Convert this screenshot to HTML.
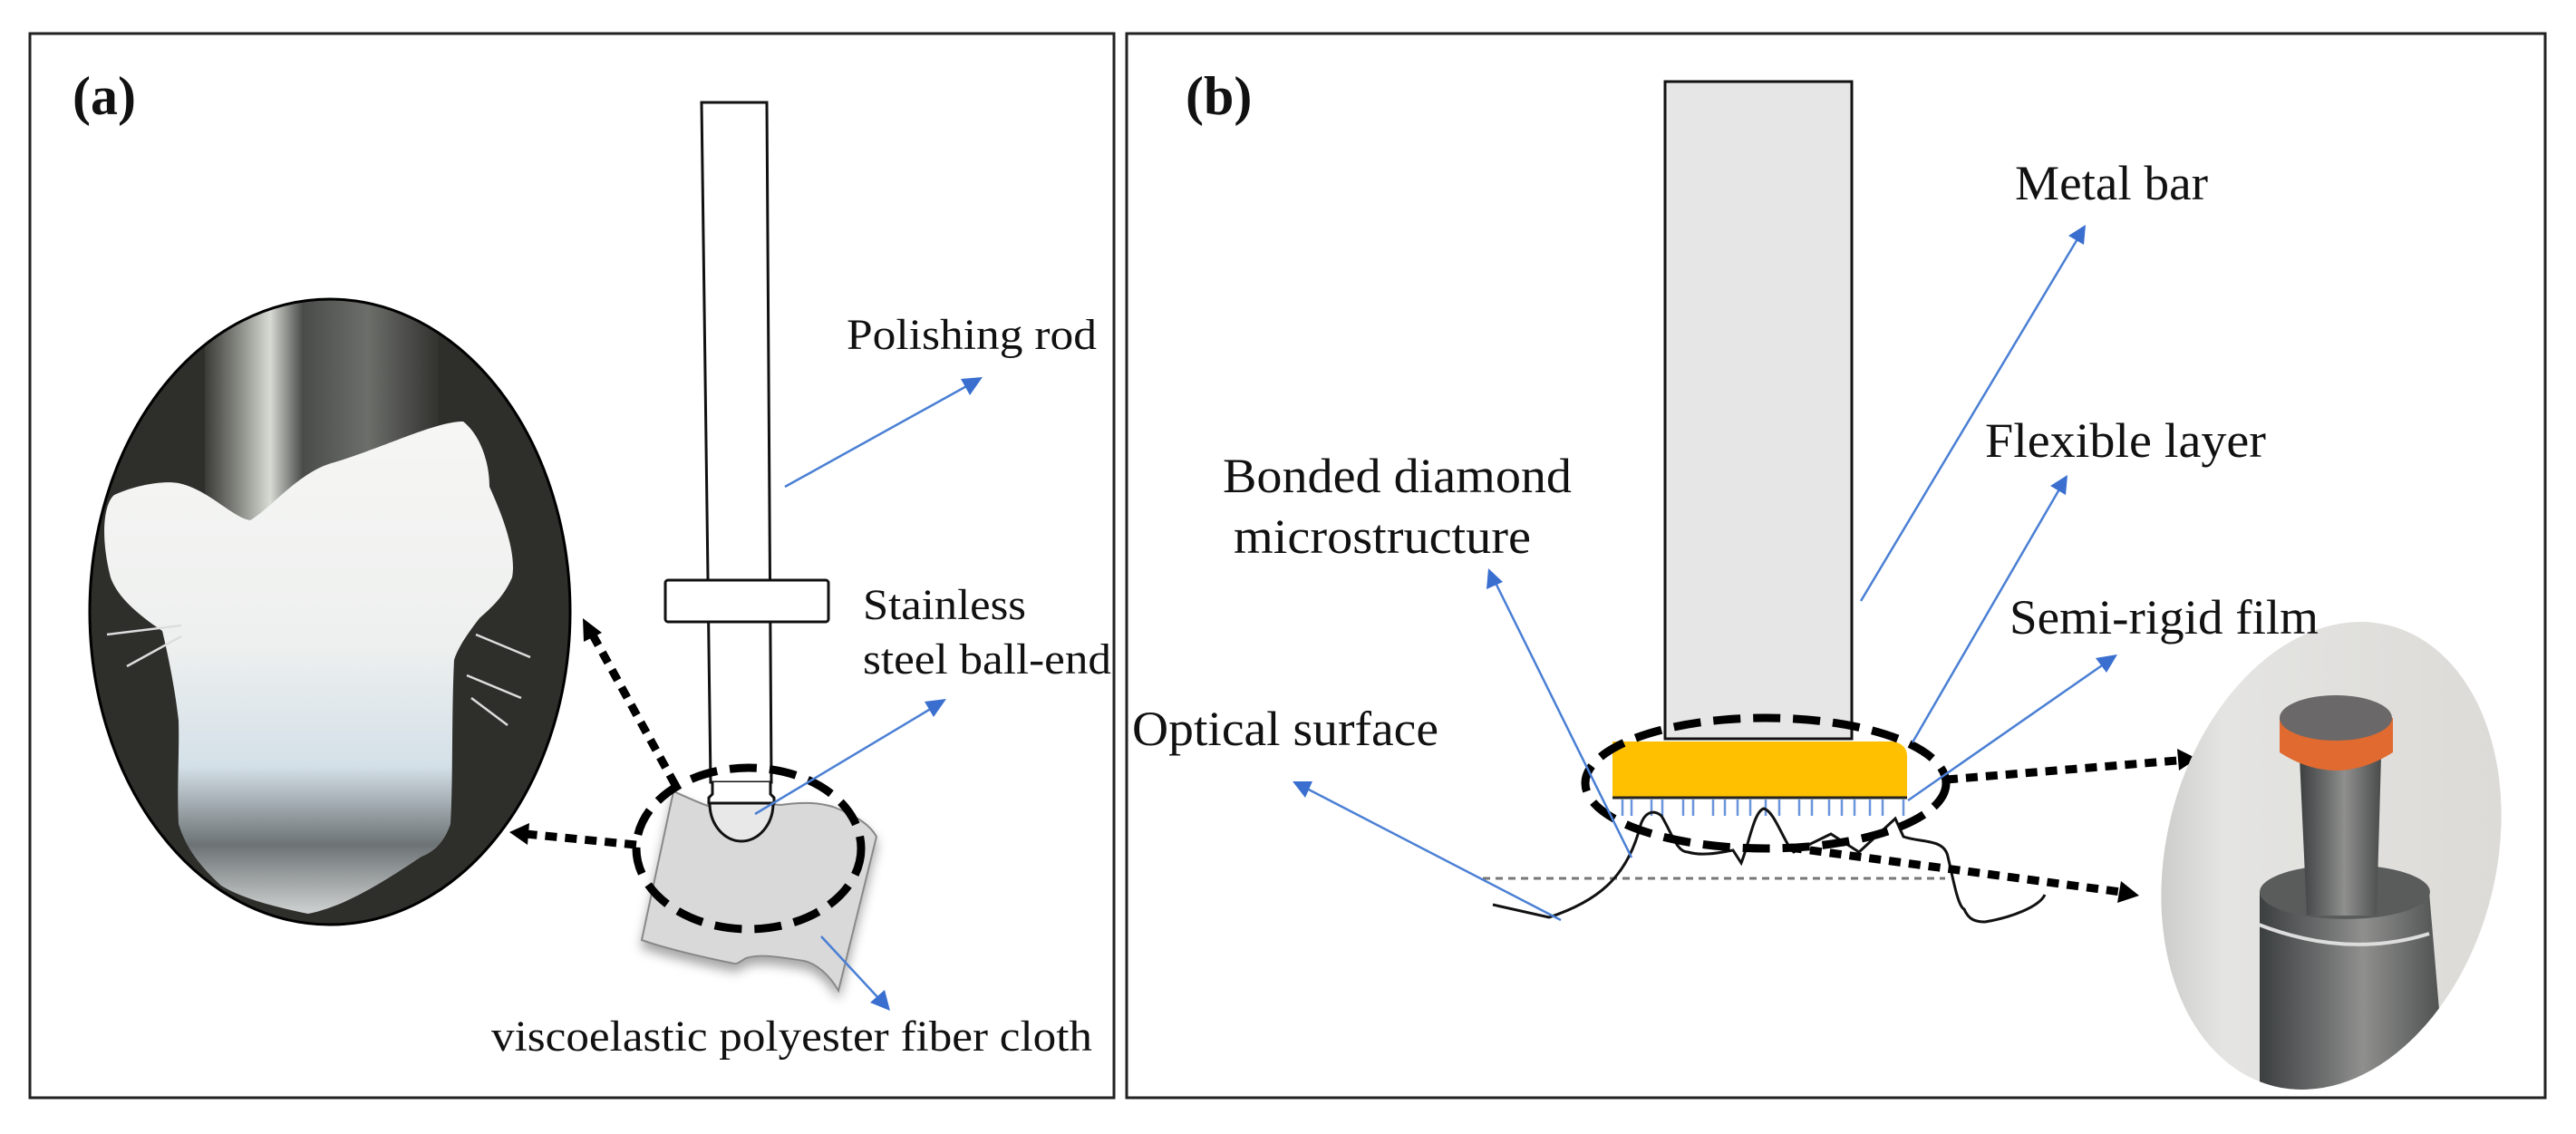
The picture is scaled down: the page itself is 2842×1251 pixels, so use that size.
<!DOCTYPE html>
<html><head><meta charset="utf-8"><style>
html,body{margin:0;padding:0;background:#fff;}
svg{display:block;}
text{font-family:"Liberation Serif",serif;fill:#111;}
</style></head><body>
<svg width="2842" height="1251" viewBox="0 0 2842 1251" xmlns="http://www.w3.org/2000/svg">
<defs>
<linearGradient id="blob" x1="0" y1="0" x2="0" y2="1">
<stop offset="0" stop-color="#f6f6f4"/><stop offset="0.45" stop-color="#eef0ef"/><stop offset="0.7" stop-color="#d4e0e8"/><stop offset="0.86" stop-color="#6d7375"/><stop offset="1" stop-color="#cfd2d2"/>
</linearGradient>
<linearGradient id="rodp" x1="0" y1="0" x2="1" y2="0">
<stop offset="0" stop-color="#3a3a36"/><stop offset="0.15" stop-color="#8a8c86"/><stop offset="0.28" stop-color="#d8dad4"/><stop offset="0.42" stop-color="#4a4c4a"/><stop offset="0.7" stop-color="#6c6e6a"/><stop offset="1" stop-color="#333330"/>
</linearGradient>
<linearGradient id="bgb" x1="0" y1="0" x2="1" y2="0">
<stop offset="0" stop-color="#c8c8c6"/><stop offset="0.2" stop-color="#e4e4e2"/><stop offset="1" stop-color="#dcdad6"/>
</linearGradient>
<linearGradient id="metal" x1="0" y1="0" x2="1" y2="0">
<stop offset="0" stop-color="#3c3f40"/><stop offset="0.35" stop-color="#6e7070"/><stop offset="0.55" stop-color="#8f908e"/><stop offset="1" stop-color="#4a4c4c"/>
</linearGradient>
<filter id="sh" x="-20%" y="-20%" width="140%" height="140%"><feDropShadow dx="0" dy="8" stdDeviation="6" flood-color="#000" flood-opacity="0.35"/></filter>
<clipPath id="ca"><ellipse cx="364" cy="675" rx="265" ry="345"/></clipPath>
<clipPath id="cb"><ellipse cx="2572" cy="944" rx="182" ry="262" transform="rotate(14 2572 944)"/></clipPath>
</defs>

<rect x="33" y="37" width="1196" height="1174" fill="none" stroke="#222" stroke-width="3"/>
<rect x="1243" y="37" width="1565" height="1174" fill="none" stroke="#222" stroke-width="3"/>

<text x="80" y="126" font-size="60" font-weight="bold">(a)</text>
<text x="1308" y="126" font-size="60" font-weight="bold">(b)</text>

<!-- Panel a photo -->
<g clip-path="url(#ca)">
<rect x="90" y="320" width="560" height="720" fill="#2e2e2a"/>
<rect x="226" y="320" width="257" height="260" fill="url(#rodp)"/>
<path d="M122,637 C110,590 115,555 126,546 C150,535 180,530 197,533 C230,540 255,570 276,574 C300,560 330,520 369,510 C420,495 480,465 511,465 C530,480 540,510 540,537 C555,570 570,610 565,637 C555,660 540,672 529,682 C515,700 505,715 501,728 C498,790 500,860 497,909 C490,930 478,940 465,945 C420,975 380,1000 340,1008 C300,1000 265,990 244,977 C220,955 205,935 197,909 C195,870 198,830 197,795 C193,760 186,725 179,696 C155,680 130,660 122,637 Z" fill="url(#blob)"/>
<path d="M118,700 L200,690 M140,735 L200,702 M525,700 L585,725 M515,745 L575,770 M520,770 L560,800" stroke="#ddd" stroke-width="2.5" fill="none"/>
</g>
<ellipse cx="364" cy="675" rx="265" ry="345" fill="none" stroke="#000" stroke-width="3"/>

<!-- cloth -->
<path d="M743,873 C770,885 790,895 812,895 C830,890 845,886 861,888 C890,884 905,886 919,890 C945,900 960,910 967,923 L925,1093 C915,1075 900,1063 887,1060 C860,1056 840,1052 823,1057 C815,1062 812,1064 810,1063 C770,1055 730,1045 708,1037 Z" fill="#d9d9d9" stroke="#888" stroke-width="2" filter="url(#sh)"/>

<!-- rod -->
<path d="M774,113 L846,113 L851,863 L784,863 Z" fill="#fff" stroke="#111" stroke-width="3"/>
<rect x="734" y="640" width="180" height="46" rx="3" fill="#fff" stroke="#111" stroke-width="3"/>
<path d="M786,863 L786,876 L782,880 L782,886 L854,886 L854,880 L850,876 L850,863" fill="#fff" stroke="#111" stroke-width="3"/>
<path d="M783,886 A35,42 0 0 0 853,886 Z" fill="#e8e8e8" stroke="#111" stroke-width="3"/>

<ellipse cx="826" cy="936" rx="124" ry="89" fill="none" stroke="#000" stroke-width="9" stroke-dasharray="30,14"/>

<line x1="745" y1="866" x2="652" y2="697" stroke="#000" stroke-width="9" stroke-dasharray="13,9"/>
<polygon points="643,682 664,698 644,708" fill="#000"/>
<line x1="702" y1="932" x2="580" y2="920" stroke="#000" stroke-width="9" stroke-dasharray="13,9"/>
<polygon points="562,918 584,908 582,932" fill="#000"/>

<g stroke="#4a7fd4" stroke-width="2.5" fill="#3a6fd0">
<line x1="866" y1="537" x2="1070" y2="424"/>
<polygon points="1084,416 1060,418 1070,436" stroke="none"/>
<line x1="833" y1="898" x2="1030" y2="780"/>
<polygon points="1044,771 1020,774 1030,791" stroke="none"/>
<line x1="906" y1="1033" x2="970" y2="1102"/>
<polygon points="982,1115 960,1106 976,1092" stroke="none"/>
</g>

<text x="934" y="385" font-size="48" textLength="276" lengthAdjust="spacingAndGlyphs">Polishing rod</text>
<text x="952" y="683" font-size="48" textLength="180" lengthAdjust="spacingAndGlyphs">Stainless</text>
<text x="952" y="743" font-size="48" textLength="274" lengthAdjust="spacingAndGlyphs">steel ball-end</text>
<text x="542" y="1159" font-size="48" textLength="663" lengthAdjust="spacingAndGlyphs">viscoelastic polyester fiber cloth</text>

<!-- Panel b -->
<rect x="1837" y="90" width="206" height="725" fill="#e6e6e6" stroke="#111" stroke-width="3"/>
<path d="M1779,818 L2090,818 Q2104,822 2104,834 L2104,880 L1779,880 Z" fill="#ffc000"/>
<line x1="1779" y1="880" x2="2104" y2="880" stroke="#222" stroke-width="3"/>
<g stroke="#6a94dc" stroke-width="2.5">
<line x1="1790" y1="882" x2="1790" y2="900"/><line x1="1800" y1="882" x2="1800" y2="900"/><line x1="1822" y1="882" x2="1822" y2="900"/><line x1="1834" y1="882" x2="1834" y2="900"/><line x1="1857" y1="882" x2="1857" y2="900"/><line x1="1868" y1="882" x2="1868" y2="900"/><line x1="1890" y1="882" x2="1890" y2="900"/><line x1="1903" y1="882" x2="1903" y2="900"/><line x1="1917" y1="882" x2="1917" y2="900"/><line x1="1931" y1="882" x2="1931" y2="900"/><line x1="1948" y1="882" x2="1948" y2="900"/><line x1="1963" y1="882" x2="1963" y2="900"/><line x1="1985" y1="882" x2="1985" y2="900"/><line x1="1999" y1="882" x2="1999" y2="900"/><line x1="2018" y1="882" x2="2018" y2="900"/><line x1="2032" y1="882" x2="2032" y2="900"/><line x1="2046" y1="882" x2="2046" y2="900"/><line x1="2063" y1="882" x2="2063" y2="900"/><line x1="2077" y1="882" x2="2077" y2="900"/><line x1="2100" y1="882" x2="2100" y2="900"/>
</g>

<line x1="1636" y1="969" x2="2146" y2="969" stroke="#777" stroke-width="3" stroke-dasharray="8,6"/>

<path d="M1647,998 L1709,1012 C1760,995 1795,970 1810,910 C1815,895 1825,893 1833,900 C1845,920 1850,940 1862,940 C1880,945 1900,940 1912,938 L1921,952 C1930,930 1935,895 1946,892 C1958,895 1968,930 1979,940 L2020,920 L2051,940 L2091,903 L2100,923 C2120,930 2145,925 2149,945 C2155,970 2160,1000 2167,1003 C2172,1015 2180,1017 2190,1017 C2220,1012 2250,1000 2256,987" fill="none" stroke="#111" stroke-width="3"/>

<ellipse cx="1948" cy="864" rx="199" ry="72" fill="none" stroke="#000" stroke-width="9" stroke-dasharray="30,14"/>

<line x1="2147" y1="860" x2="2402" y2="839" stroke="#000" stroke-width="9" stroke-dasharray="13,9"/>
<polygon points="2424,837 2402,826 2404,850" fill="#000"/>
<line x1="1975" y1="935" x2="2340" y2="984" stroke="#000" stroke-width="9" stroke-dasharray="13,9"/>
<polygon points="2360,988 2340,972 2336,996" fill="#000"/>

<g clip-path="url(#cb)">
<rect x="2370" y="670" width="410" height="550" fill="url(#bgb)"/>
<path d="M2493,984 L2680,984 L2700,1220 L2493,1220 Z" fill="url(#metal)"/>
<ellipse cx="2587" cy="984" rx="94" ry="30" fill="#5a5c5c"/>
<path d="M2492,1020 Q2590,1058 2680,1030" stroke="#ddd" stroke-width="4" fill="none"/>
<path d="M2537,835 L2627,835 L2622,1010 L2545,1010 Z" fill="url(#metal)"/>
<path d="M2515,792 L2515,830 Q2577,870 2640,830 L2640,792 Z" fill="#e06a30"/>
<ellipse cx="2577" cy="792" rx="62" ry="25" fill="#6a6868"/>
</g>

<g stroke="#4a7fd4" stroke-width="2.5" fill="#3a6fd0">
<line x1="2053" y1="663" x2="2293" y2="262"/>
<polygon points="2301,248 2282,260 2299,270" stroke="none"/>
<line x1="2110" y1="819" x2="2273" y2="538"/>
<polygon points="2281,524 2262,536 2279,546" stroke="none"/>
<line x1="2105" y1="883" x2="2322" y2="732"/>
<polygon points="2336,722 2312,726 2324,742" stroke="none"/>
<line x1="1800" y1="946" x2="1649" y2="641"/>
<polygon points="1642,627 1640,650 1658,642" stroke="none"/>
<line x1="1722" y1="1015" x2="1440" y2="869"/>
<polygon points="1426,862 1440,880 1448,862" stroke="none"/>
</g>

<text x="2223" y="220" font-size="54" textLength="213" lengthAdjust="spacingAndGlyphs">Metal bar</text>
<text x="2190" y="504" font-size="54" textLength="310" lengthAdjust="spacingAndGlyphs">Flexible layer</text>
<text x="2217" y="699" font-size="54" textLength="341" lengthAdjust="spacingAndGlyphs">Semi-rigid film</text>
<text x="1349" y="543" font-size="54" textLength="385" lengthAdjust="spacingAndGlyphs">Bonded diamond</text>
<text x="1361" y="610" font-size="54" textLength="328" lengthAdjust="spacingAndGlyphs">microstructure</text>
<text x="1249" y="822" font-size="54" textLength="338" lengthAdjust="spacingAndGlyphs">Optical surface</text>
</svg>
</body></html>
